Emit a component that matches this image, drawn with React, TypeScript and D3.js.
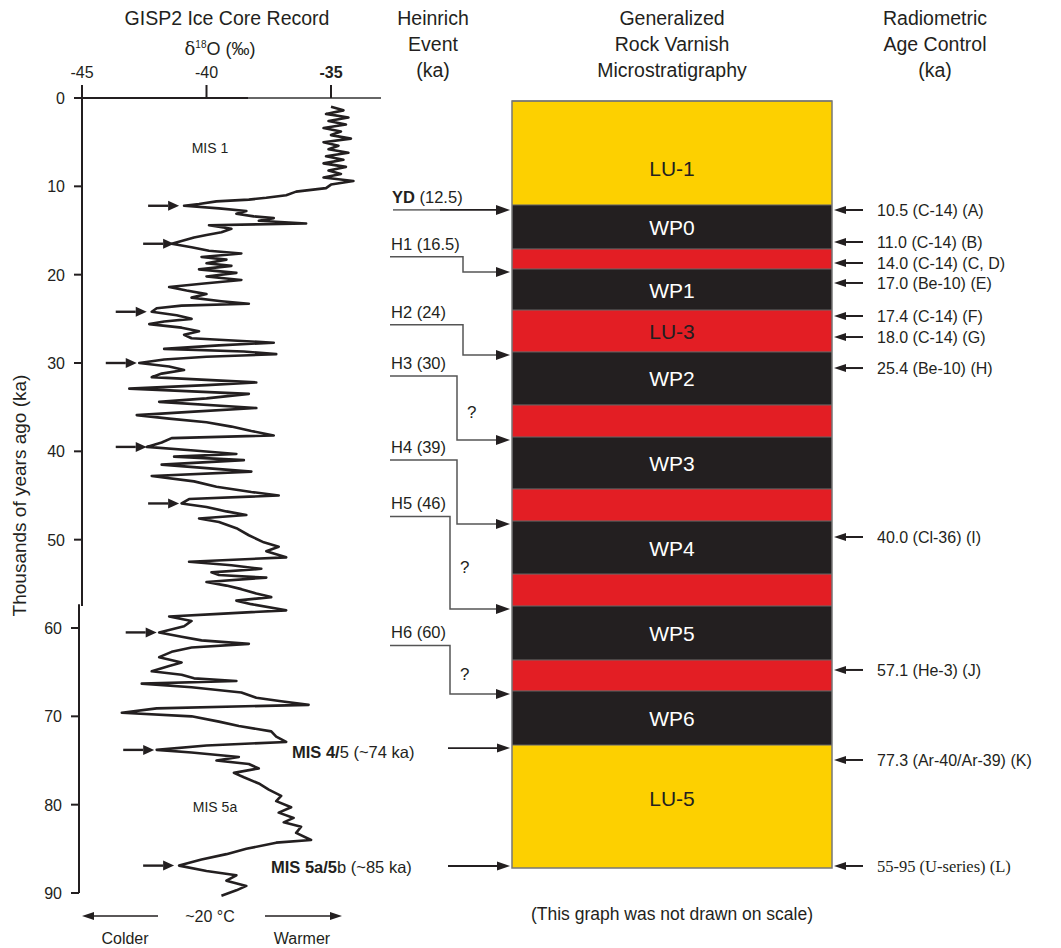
import React from 'react';
import * as d3 from 'd3';

// GISP2 d18O record: age (ka) and value (per mil)
const iceAge = [
  1.0, 1.4, 1.8, 2.2, 2.6, 3.0, 3.4, 3.8, 4.2, 4.6, 5.0, 5.4, 5.8, 6.2, 6.6, 7.0, 7.4, 7.8, 8.2, 8.6, 9.0, 9.4, 9.8,
  10.2, 10.6, 11.0, 11.3, 11.5, 11.7, 12.0, 12.2, 12.5, 12.8, 13.1, 13.4, 13.6, 13.9, 14.2, 14.4, 14.8, 15.2, 15.5,
  15.8, 16.2, 16.5, 16.9, 17.3, 17.6, 18.0, 18.3, 18.7, 19.0, 19.4, 19.8, 20.2, 20.6, 21.0, 21.4, 21.8, 22.2, 22.6,
  23.0, 23.3, 23.5, 23.8, 24.2, 24.6, 25.0, 25.3, 25.6, 26.0, 26.4, 26.8, 27.2, 27.7, 28.0, 28.4, 28.7, 29.0, 29.3,
  29.6, 30.0, 30.4, 30.8, 31.2, 31.6, 32.2, 32.5, 32.9, 33.5, 34.0, 34.4, 35.1, 35.5, 35.9, 36.3, 36.7, 37.2, 37.7,
  38.2, 38.5, 39.0, 39.5, 39.9, 40.3, 40.6, 41.0, 41.5, 42.3, 42.8, 43.4, 44.0, 44.6, 45.0, 45.4, 45.9, 46.3, 46.8,
  47.2, 47.6, 48.0, 48.7, 49.5, 50.3, 50.8, 51.3, 52.0, 52.5, 52.9, 53.3, 53.7, 54.0, 54.3, 54.8, 55.2, 55.6, 56.1,
  56.5, 56.9, 57.3, 58.0, 58.4, 58.7, 59.2, 59.8, 60.5, 61.0, 61.4, 61.8, 62.2, 62.7, 63.3, 63.9, 64.3, 64.9, 65.3,
  65.7, 66.0, 66.3, 66.7, 67.3, 67.9, 68.3, 68.7, 69.1, 69.6, 70.0, 70.6, 71.1, 71.7, 72.3, 72.9, 73.3, 73.8, 74.1,
  74.6, 75.0, 75.4, 75.9, 76.4, 76.9, 77.6, 78.3, 79.0, 79.6, 80.3, 80.9, 81.5, 82.0, 82.5, 83.2, 84.0, 84.3, 85.0,
  85.6, 86.2, 86.9, 87.5, 88.0, 88.6, 89.2, 89.7, 90.3,
];
const iceD18O = [
  -35.0, -34.5, -35.2, -34.3, -35.1, -34.4, -35.3, -34.6, -35.0, -34.2, -35.3, -34.7, -35.1, -34.3, -35.2, -34.5, -35.3, -34.4, -35.1, -34.6, -35.3, -34.1, -35.0,
  -35.2, -36.4, -36.8, -37.6, -38.3, -39.6, -40.3, -40.9, -39.5, -38.4, -38.8, -38.1, -37.3, -37.9, -36.0, -39.9, -39.0, -39.4, -40.0,
  -40.5, -41.0, -41.4, -40.6, -39.9, -38.6, -40.2, -39.2, -40.0, -39.0, -40.3, -38.8, -40.0, -38.6, -40.1, -41.5, -40.8, -40.0, -40.6,
  -39.4, -38.3, -41.0, -42.0, -42.2, -41.2, -40.6, -41.7, -42.3, -41.0, -40.3, -40.9, -40.6, -37.3, -39.5, -41.7, -38.5, -37.2, -40.0,
  -41.7, -42.7, -41.5, -40.9, -41.8, -42.2, -38.0, -40.0, -43.1, -38.3, -40.0, -41.9, -38.0, -40.5, -42.8, -41.5, -40.0, -39.0, -38.2,
  -37.3, -41.4, -41.8, -42.4, -40.5, -38.8, -41.3, -38.5, -41.8, -38.2, -42.2, -40.5, -39.6, -38.2, -37.1, -40.7, -41.0, -40.0, -39.2,
  -38.4, -40.3, -39.5, -38.8, -38.3, -37.7, -37.1, -37.6, -36.8, -40.7, -39.0, -37.8, -39.8, -39.5, -37.6, -40.0, -39.2, -38.6, -38.0,
  -37.4, -38.8, -38.2, -36.8, -39.5, -41.5, -40.6, -40.9, -41.9, -41.0, -40.2, -38.3, -40.6, -41.4, -41.9, -41.0, -41.5, -42.2, -41.0,
  -40.5, -38.8, -42.6, -40.6, -38.6, -38.0, -37.0, -35.9, -42.0, -43.4, -40.6, -39.5, -38.7, -37.4, -37.2, -36.8, -40.0, -42.0, -40.6,
  -38.7, -39.6, -38.3, -37.9, -38.9, -38.5, -37.9, -37.5, -37.0, -37.2, -36.6, -37.1, -36.5, -36.9, -36.2, -36.4, -35.8, -37.2, -38.4,
  -39.2, -40.2, -41.1, -40.0, -38.8, -39.2, -38.4, -38.8, -39.4,
];

const xTicks = [-45, -40, -35];
const yTicks = [0, 10, 20, 30, 40, 50, 60, 70, 80, 90];

// cold events marked with arrows on the curve
const coldAge = [12.2, 16.5, 24.2, 30.0, 39.5, 45.9, 60.5, 73.8, 86.9];
const coldTip = [-41.1, -41.3, -42.4, -42.8, -42.4, -41.1, -42.0, -42.1, -41.3];

// schematic varnish column (not to scale), tops given in left-axis units
const layerNames = ['LU-1', 'WP0', '', 'WP1', 'LU-3', 'WP2', '', 'WP3', '', 'WP4', '', 'WP5', '', 'WP6', 'LU-5'];
const layerKind = ['y', 'k', 'r', 'k', 'r', 'k', 'r', 'k', 'r', 'k', 'r', 'k', 'r', 'k', 'y'];
const layerTop = [0.34, 12.11, 17.09, 19.36, 24.0, 28.75, 34.75, 38.38, 44.26, 47.89, 53.89, 57.51, 63.62, 67.13, 73.25];
const columnBase = 87.17;

// Heinrich events
const heinrichName = ['YD', 'H1', 'H2', 'H3', 'H4', 'H5', 'H6'];
const heinrichKa = ['12.5', '16.5', '24', '30', '39', '46', '60'];
const heinrichLayer = [1, 3, 5, 7, 9, 11, 13];
const heinrichDoubt = [false, false, false, true, false, true, true];

// radiometric age control
const controlLabel = [
  '10.5 (C-14) (A)', '11.0 (C-14) (B)', '14.0 (C-14) (C, D)', '17.0 (Be-10) (E)', '17.4 (C-14) (F)',
  '18.0 (C-14) (G)', '25.4 (Be-10) (H)', '40.0 (Cl-36) (I)', '57.1 (He-3) (J)', '77.3 (Ar-40/Ar-39) (K)',
  '55-95 (U-series) (L)',
];
const controlDepth = [12.68, 16.3, 18.68, 20.94, 24.68, 27.06, 30.57, 49.7, 64.75, 74.94, 86.94];

const FONT = "'Liberation Sans', Arial, Helvetica, sans-serif";
const INK = '#231f20';
const COLORS: Record<string, string> = { y: '#fdd000', k: '#231f20', r: '#e31e24' };
const elbowX = [0, 463, 463, 457, 457, 450, 450];
const labelNudge: Record<number, number> = { 0: 15, 14: -9 };

function Arrow({ x1, y1, x2, y2, head = 12, half = 4.5, color = INK, width = 1.5 }: any) {
  const a = Math.atan2(y2 - y1, x2 - x1);
  const bx = x2 - head * Math.cos(a);
  const by = y2 - head * Math.sin(a);
  const px = -Math.sin(a) * half;
  const py = Math.cos(a) * half;
  return (
    <g>
      <line x1={x1} y1={y1} x2={bx} y2={by} stroke={color} strokeWidth={width} />
      <polygon points={`${x2},${y2} ${bx + px},${by + py} ${bx - px},${by - py}`} fill={INK} />
    </g>
  );
}

export default function App() {
  const width = 1061;
  const height = 948;
  const x = d3.scaleLinear().domain([-45, -35]).range([82, 331]);
  const y = d3.scaleLinear().domain([0, 90]).range([98, 893]);

  const line = d3
    .line<number>()
    .x((i) => x(iceD18O[i]))
    .y((i) => y(iceAge[i]));
  const curve = line(d3.range(iceAge.length)) || '';

  const colL = 512;
  const colR = 832;
  const colMid = (colL + colR) / 2;
  const bottoms = layerTop.slice(1).concat([columnBase]);

  return (
    <svg width={width} height={height} style={{ position: 'absolute', left: 0, top: 0, background: '#fff' }}
      fontFamily={FONT}>
      {/* headers */}
      <g fill={INK} fontSize={19.5} textAnchor="middle">
        <text x={227} y={25}>GISP2 Ice Core Record</text>
        <text x={433} y={25}>Heinrich</text>
        <text x={433} y={51}>Event</text>
        <text x={433} y={77}>(ka)</text>
        <text x={672} y={25}>Generalized</text>
        <text x={672} y={51}>Rock Varnish</text>
        <text x={672} y={77}>Microstratigraphy</text>
        <text x={935} y={25}>Radiometric</text>
        <text x={935} y={51}>Age Control</text>
        <text x={935} y={77}>(ka)</text>
      </g>
      <text x={220} y={55} textAnchor="middle" fontSize={18} fill={INK}>
        <tspan fontFamily="'DejaVu Serif', serif">δ</tspan>
        <tspan fontSize={10} dy={-7}>18</tspan>
        <tspan dy={7}>O (‰)</tspan>
      </text>

      {/* top axis */}
      <line x1={76} x2={248} y1={y(0)} y2={y(0)} stroke={INK} strokeWidth={2} />
      <line x1={248} x2={381} y1={y(0)} y2={y(0)} stroke="#666" strokeWidth={2} />
      {xTicks.map((t) => (
        <g key={t}>
          <line x1={x(t)} x2={x(t)} y1={y(0) - 13} y2={y(0)} stroke={INK} strokeWidth={2} />
          <text x={x(t)} y={78} textAnchor="middle" fontSize={16} fill={INK}
            fontWeight={t === -35 ? 'bold' : 'normal'}>{t}</text>
        </g>
      ))}

      {/* left axis */}
      <line x1={82} x2={82} y1={y(0)} y2={y(57.5)} stroke={INK} strokeWidth={2} />
      <line x1={79} x2={79} y1={y(57.3)} y2={y(90)} stroke={INK} strokeWidth={2} />
      {yTicks.map((t) => {
        const ax = t >= 60 ? 79 : 82;
        return (
          <g key={t}>
            <line x1={ax - 8} x2={ax} y1={y(t)} y2={y(t)} stroke={INK} strokeWidth={2} />
            <text x={ax - 17} y={y(t) + 6} textAnchor="end" fontSize={16} fill={INK}>{t}</text>
          </g>
        );
      })}
      <text transform={`translate(26,${y(45)}) rotate(-90)`} textAnchor="middle" fontSize={19} fill={INK}>
        Thousands of years ago (ka)
      </text>

      {/* ice core curve */}
      <path d={curve} fill="none" stroke={INK} strokeWidth={2.6} strokeLinejoin="round" />
      {coldAge.map((a, i) => (
        <Arrow key={i} x1={x(coldTip[i]) - 31} y1={y(a)} x2={x(coldTip[i])} y2={y(a)}
          head={11} half={5} width={2.4} />
      ))}
      <text x={210} y={153} textAnchor="middle" fontSize={14} fill={INK}>MIS 1</text>
      <text x={215} y={812} textAnchor="middle" fontSize={14} fill={INK}>MIS 5a</text>
      <text x={292} y={y(74) + 6} fontSize={16.5} fill={INK}>
        <tspan fontWeight="bold">MIS 4/</tspan>5 (~74 ka)
      </text>
      <text x={271} y={y(87) + 6} fontSize={16.5} fill={INK}>
        <tspan fontWeight="bold">MIS 5a/5</tspan>b (~85 ka)
      </text>
      <Arrow x1={448} y1={y(layerTop[14]) + 3} x2={510} y2={y(layerTop[14]) + 3} head={13} half={4.5} width={1.8} />
      <Arrow x1={448} y1={y(columnBase) - 2} x2={510} y2={y(columnBase) - 2} head={13} half={4.5} width={1.8} />

      {/* bottom annotations */}
      <Arrow x1={158} y1={916} x2={82} y2={916} head={12} half={4} width={1.6} />
      <Arrow x1={265} y1={916} x2={342} y2={916} head={12} half={4} width={1.6} />
      <text x={210} y={922} textAnchor="middle" fontSize={16} fill={INK}>~20 °C</text>
      <text x={125} y={944} textAnchor="middle" fontSize={16} fill={INK}>Colder</text>
      <text x={302} y={944} textAnchor="middle" fontSize={16} fill={INK}>Warmer</text>
      <text x={672} y={920} textAnchor="middle" fontSize={17.5} fill={INK}>
        (This graph was not drawn on scale)
      </text>

      {/* varnish column */}
      {layerTop.map((t, i) => (
        <rect key={i} x={colL} y={y(t)} width={colR - colL} height={y(bottoms[i]) - y(t)}
          fill={COLORS[layerKind[i]]} />
      ))}
      {layerTop.map((t, i) => (
        <line key={i} x1={colL} x2={colR} y1={y(t)} y2={y(t)} stroke="#666" strokeWidth={1} />
      ))}
      <rect x={colL} y={y(layerTop[0])} width={colR - colL} height={y(columnBase) - y(layerTop[0])}
        fill="none" stroke="#777" strokeWidth={1.5} />
      {layerNames.map((n, i) =>
        n ? (
          <text key={i} x={colMid} y={(y(layerTop[i]) + y(bottoms[i])) / 2 + 8 + (labelNudge[i] || 0)}
            textAnchor="middle" fontSize={21} fill={layerKind[i] === 'k' ? '#fff' : INK}>{n}</text>
        ) : null,
      )}

      {/* Heinrich events */}
      {heinrichName.map((n, i) => {
        const ty = y(layerTop[heinrichLayer[i]]) + 3;
        if (i === 0) {
          return (
            <g key={n}>
              <text x={392} y={203} fontSize={16.5} fill={INK}>
                <tspan fontWeight="bold">{n}</tspan> ({heinrichKa[i]})
              </text>
              <line x1={393} x2={440} y1={ty + 2} y2={ty + 2} stroke="#777" strokeWidth={1.8} />
              <Arrow x1={440} y1={ty + 2} x2={510} y2={ty + 2} head={14} half={5} width={1.8} />
            </g>
          );
        }
        const ly = y(coldAge[i]) + 13;
        const ex = elbowX[i];
        return (
          <g key={n}>
            <text x={391} y={ly - 7} fontSize={16.5} fill={INK}>{n} ({heinrichKa[i]})</text>
            <path d={`M390,${ly}H${ex}V${ty}H498`} fill="none" stroke="#555" strokeWidth={1.5} />
            <Arrow x1={496} y1={ty} x2={510} y2={ty} head={14} half={5} width={1.5} />
            {heinrichDoubt[i] && (
              <text x={ex + 10} y={(ly + ty) / 2 + 10} fontSize={17} fill={INK}>?</text>
            )}
          </g>
        );
      })}

      {/* radiometric age control */}
      {controlLabel.map((l, i) => {
        const cy = y(controlDepth[i]);
        const last = i === controlLabel.length - 1;
        return (
          <g key={l}>
            <Arrow x1={863} y1={cy} x2={834} y2={cy} head={12} half={4} width={2} />
            <text x={877} y={cy + 6} fontSize={last ? 16.5 : 16} fill={INK}
              fontFamily={last ? "'Liberation Serif', 'Times New Roman', serif" : FONT}>{l}</text>
          </g>
        );
      })}
    </svg>
  );
}
